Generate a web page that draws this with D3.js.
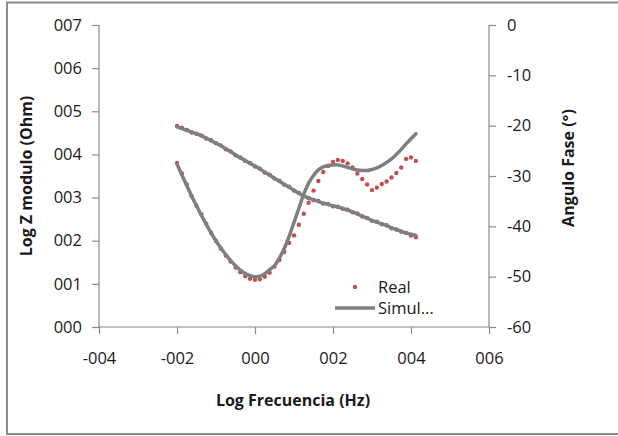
<!DOCTYPE html>
<html>
<head>
<meta charset="utf-8">
<script src="https://cdn.jsdelivr.net/npm/d3@7"></script>
<style>
  html, body { margin: 0; padding: 0; background: #fff; }
  svg { display: block; }
  text { font-family: "Open Sans", Lato, sans-serif; fill: #1a1a1a; }
</style>
</head>
<body>
<svg id="chart" width="618" height="436"></svg>
<script>
// ---- data ----
const logFreq = [-2.0,-1.875,-1.75,-1.625,-1.5,-1.375,-1.25,-1.125,-1.0,-0.875,-0.75,-0.625,-0.5,-0.375,-0.25,-0.125,
  0.0,0.125,0.25,0.375,0.5,0.625,0.75,0.875,1.0,1.125,1.25,1.375,1.5,1.625,1.75,1.875,
  2.0,2.125,2.25,2.375,2.5,2.625,2.75,2.875,3.0,3.125,3.25,3.375,3.5,3.625,3.75,3.875,4.0,4.125];

const realModulo = [4.66,4.62,4.57,4.51,4.48,4.44,4.37,4.33,4.26,4.21,4.12,4.07,3.98,3.93,3.85,3.80,
  3.72,3.67,3.58,3.53,3.44,3.39,3.30,3.25,3.16,3.11,3.03,2.99,2.94,2.92,2.86,2.85,
  2.80,2.79,2.74,2.72,2.66,2.63,2.56,2.53,2.46,2.44,2.38,2.36,2.29,2.26,2.21,2.18,2.12,2.08];

const simulModulo = [4.64,4.60,4.56,4.52,4.48,4.43,4.38,4.32,4.26,4.20,4.13,4.06,3.99,3.92,3.86,3.79,
  3.73,3.66,3.59,3.52,3.45,3.38,3.31,3.24,3.17,3.10,3.04,2.99,2.95,2.91,2.87,2.84,
  2.81,2.78,2.75,2.71,2.67,2.62,2.57,2.52,2.47,2.43,2.39,2.35,2.30,2.26,2.22,2.18,2.15,2.12];

const realFase = [-27.4,-29.5,-31.7,-34.0,-35.9,-37.6,-39.5,-41.3,-42.9,-44.4,-45.8,-47.0,-48.2,-49.1,-49.9,-50.4,
  -50.6,-50.5,-50.0,-49.2,-48.0,-46.7,-45.1,-43.3,-41.8,-39.7,-37.5,-35.3,-32.9,-31.0,-29.2,-28.0,
  -27.2,-26.8,-27.0,-27.5,-28.3,-29.5,-30.6,-31.7,-32.8,-32.3,-31.6,-31.1,-30.3,-29.4,-28.3,-26.6,-26.3,-27.0];

const simulFase = [-27.6,-29.8,-31.9,-34.0,-35.9,-37.8,-39.6,-41.3,-42.9,-44.3,-45.6,-46.8,-47.8,-48.7,-49.4,-49.8,
  -50.0,-49.9,-49.4,-48.6,-47.8,-46.3,-44.4,-42.0,-39.2,-36.4,-33.6,-31.4,-29.9,-28.8,-28.2,-27.9,
  -27.8,-27.8,-28.0,-28.3,-28.6,-28.8,-28.9,-28.9,-28.7,-28.4,-27.9,-27.3,-26.6,-25.7,-24.7,-23.6,-22.6,-21.6];

const xTicks = [-4,-2,0,2,4,6];
const xTickLabels = ["-004","-002","000","002","004","006"];
const yLeftTicks = [0,1,2,3,4,5,6,7];
const yLeftTickLabels = ["000","001","002","003","004","005","006","007"];
const yRightTicks = [0,-10,-20,-30,-40,-50,-60];
const yRightTickLabels = ["0","-10","-20","-30","-40","-50","-60"];
const seriesNames = ["Real","Simul..."];

// ---- layout ----
const svg = d3.select("#chart");
const plot = {left: 99, right: 489, top: 25, bottom: 327};
const axisColor = "#8a8a8a";
const realColor = "#c0504d";
const simulColor = "#7f7f7f";
const fontFam = "'Open Sans', Lato, sans-serif";

// outer border
svg.append("rect").attr("x", 7).attr("y", 2.5).attr("width", 640).attr("height", 431.5)
  .attr("fill", "none").attr("stroke", "#8c8c8c").attr("stroke-width", 2);

const x = d3.scaleLinear().domain([-4, 6]).range([plot.left, plot.right]);
const yL = d3.scaleLinear().domain([0, 7]).range([plot.bottom, plot.top]);
const yR = d3.scaleLinear().domain([-60, 0]).range([plot.bottom, plot.top]);

const tickFont = "16.5px";

const gL = svg.append("g").attr("transform", `translate(${plot.left},0)`)
  .call(d3.axisLeft(yL).tickValues(yLeftTicks).tickSize(7).tickPadding(10)
    .tickFormat((d,i) => yLeftTickLabels[i]));
const gR = svg.append("g").attr("transform", `translate(${plot.right},0)`)
  .call(d3.axisRight(yR).tickValues(yRightTicks).tickSize(7).tickPadding(11)
    .tickFormat((d,i) => yRightTickLabels[i]));
const gB = svg.append("g").attr("transform", `translate(0,${plot.bottom})`)
  .call(d3.axisBottom(x).tickValues(xTicks).tickSize(7).tickPadding(18)
    .tickFormat((d,i) => xTickLabels[i]));

[gL, gR, gB].forEach(g => {
  g.select(".domain").attr("stroke", axisColor).attr("stroke-width", 1.2);
  g.selectAll(".tick line").attr("stroke", axisColor).attr("stroke-width", 1.2);
  g.selectAll(".tick text").attr("font-family", fontFam)
    .attr("font-size", tickFont).attr("fill", "#1a1a1a");
});
gL.select(".domain").attr("d", `M0,${plot.top}V${plot.bottom}`);
gR.select(".domain").attr("d", `M0,${plot.top}V${plot.bottom}`);
gB.select(".domain").attr("d", `M${plot.left},0H${plot.right}`);

// axis titles
svg.append("text").attr("transform", `translate(32,176) rotate(-90)`)
  .attr("text-anchor", "middle").attr("font-weight", "bold").attr("font-size", "16px")
  .text("Log Z modulo (Ohm)");
svg.append("text").attr("transform", `translate(574,168) rotate(-90)`)
  .attr("text-anchor", "middle").attr("font-weight", "bold").attr("font-size", "16px")
  .text("Angulo Fase (°)");
svg.append("text").attr("x", 293).attr("y", 406)
  .attr("text-anchor", "middle").attr("font-weight", "bold").attr("font-size", "16px")
  .text("Log Frecuencia (Hz)");

// ---- series ----
const gData = svg.append("g");
const dot = (arr, ys) => gData.append("g").selectAll("circle").data(arr).join("circle")
  .attr("cx", (d,i) => x(logFreq[i])).attr("cy", d => ys(d)).attr("r", 2.2)
  .attr("fill", realColor);
dot(realModulo, yL);
dot(realFase, yR);

const lineL = d3.line().x((d,i) => x(logFreq[i])).y(d => yL(d)).curve(d3.curveCatmullRom);
const lineR = d3.line().x((d,i) => x(logFreq[i])).y(d => yR(d)).curve(d3.curveCatmullRom);
gData.append("path").attr("d", lineL(simulModulo)).attr("fill", "none")
  .attr("stroke", simulColor).attr("stroke-width", 3.5).attr("stroke-linecap", "round").attr("stroke-linejoin", "round");
gData.append("path").attr("d", lineR(simulFase)).attr("fill", "none")
  .attr("stroke", simulColor).attr("stroke-width", 3.5).attr("stroke-linecap", "round").attr("stroke-linejoin", "round");

// ---- legend ----
const lg = svg.append("g");
lg.append("circle").attr("cx", 355).attr("cy", 287).attr("r", 2.2).attr("fill", realColor);
lg.append("text").attr("x", 378).attr("y", 293).attr("font-size", tickFont).text(seriesNames[0]);
lg.append("line").attr("x1", 335).attr("x2", 375).attr("y1", 308).attr("y2", 308)
  .attr("stroke", simulColor).attr("stroke-width", 3.5);
lg.append("text").attr("x", 378).attr("y", 314).attr("font-size", tickFont).text(seriesNames[1]);
</script>
</body>
</html>
